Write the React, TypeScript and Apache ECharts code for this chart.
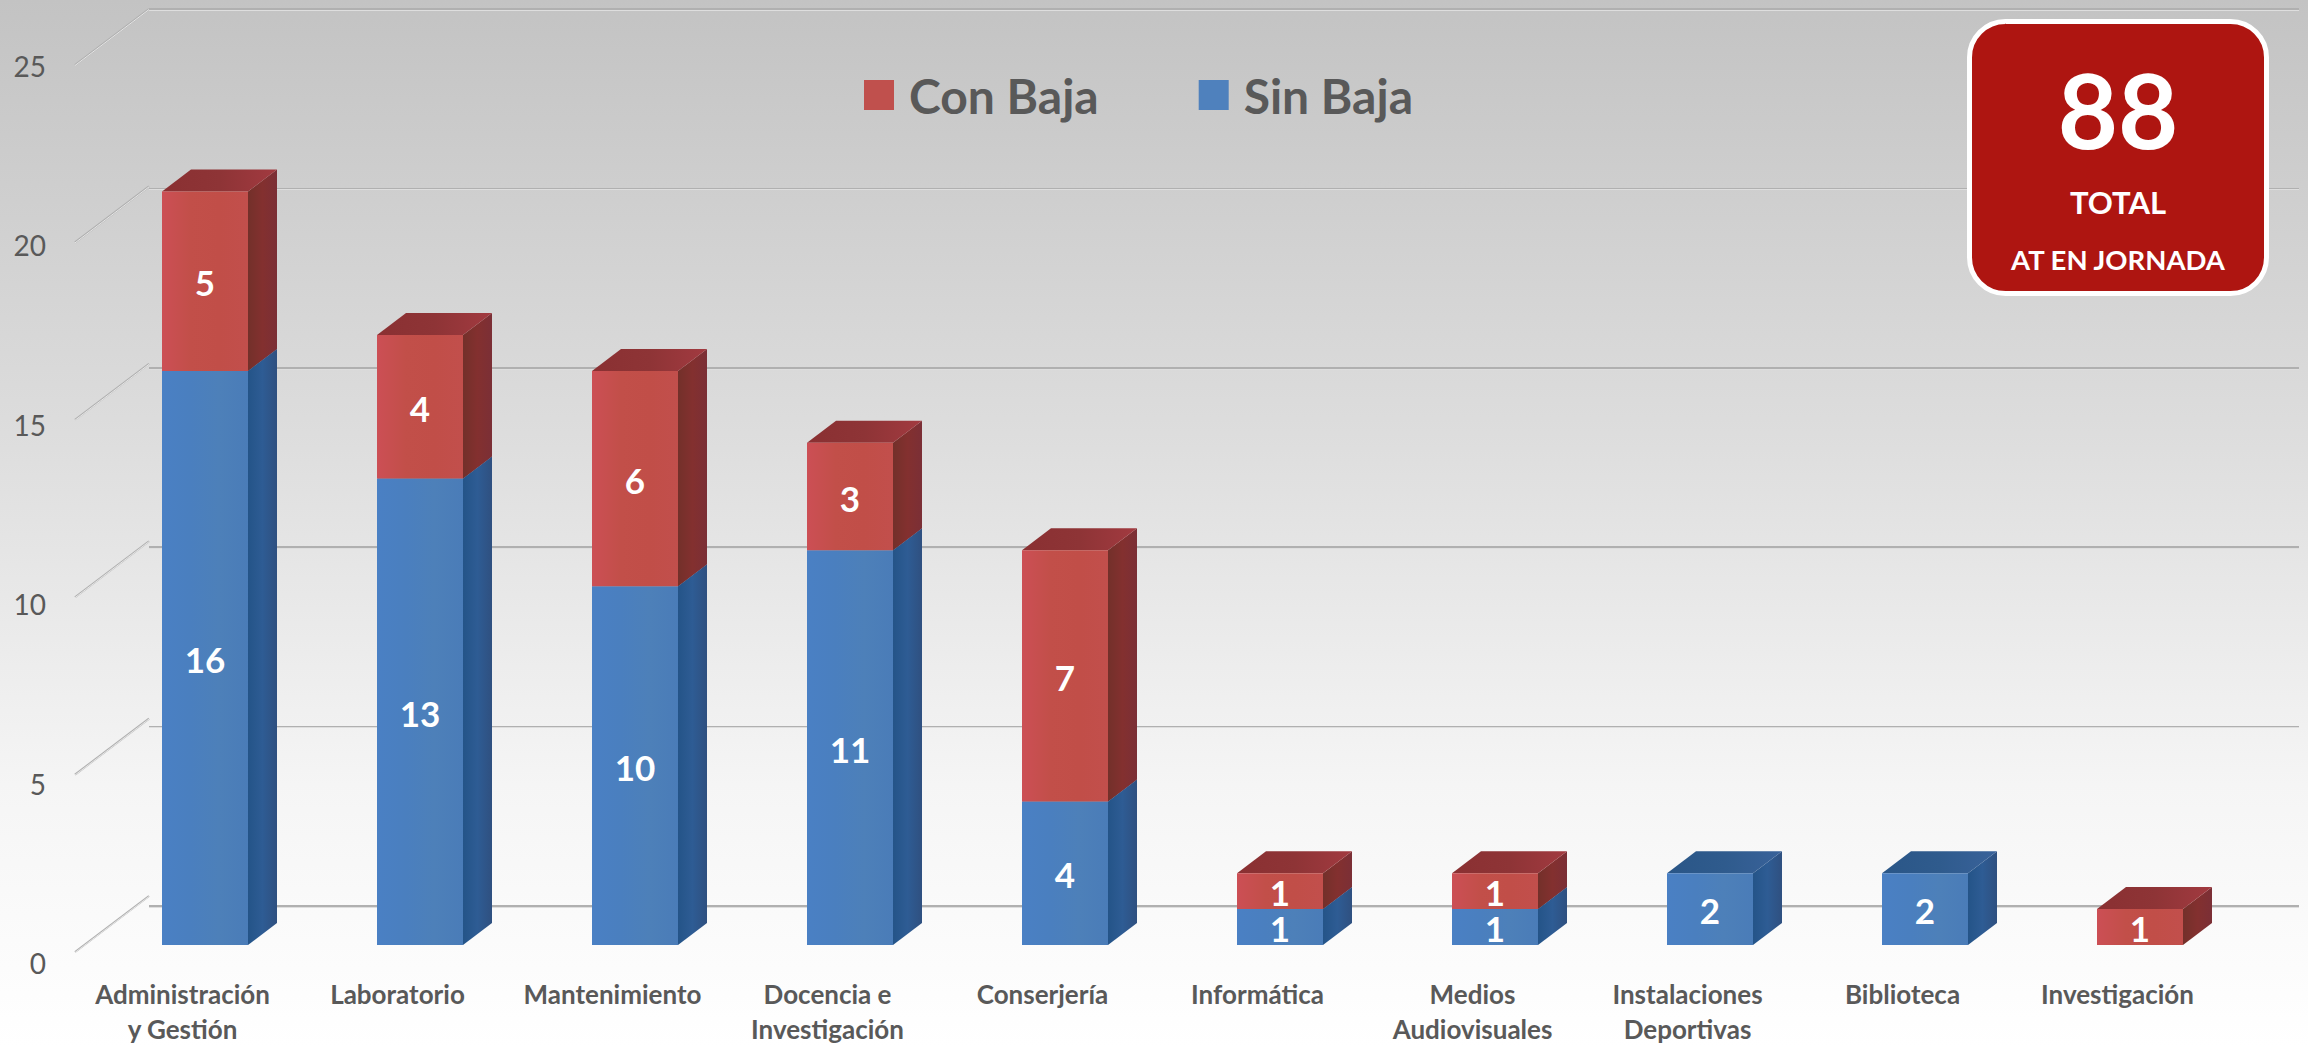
import React, { useEffect, useRef } from "react";
import * as echarts from "echarts";

const categories = ["Administración\ny Gestión", "Laboratorio", "Mantenimiento", "Docencia e\nInvestigación", "Conserjería", "Informática", "Medios\nAudiovisuales", "Instalaciones\nDeportivas", "Biblioteca", "Investigación"];
const sinBaja = [16, 13, 10, 11, 4, 1, 1, 2, 2, 0];
const conBaja = [5, 4, 6, 3, 7, 1, 1, 0, 0, 1];
const yTicks = [0, 5, 10, 15, 20, 25];
const FONT = "Lato, 'Open Sans', sans-serif";
const DEPTH_X = 29, DEPTH_Y = 22;
const WALL_X = 74, WALL_Y = 56;

const RED = { front: ["#cc4f55", "#c24f49", "#c14e48", "#c24f4c"], side: ["#73302a", "#83302f", "#7b2f36"], top: ["#8a3032", "#8e3436", "#a23a40"] };
const BLUE = { front: ["#4a80c4", "#4a7fbf", "#4d80b9", "#4a7cb8"], side: ["#245488", "#2e5c94", "#2f5080"], top: ["#2a5687", "#2f5b8d", "#39629a"] };

const hgrad = (c: string[]) => new echarts.graphic.LinearGradient(0, 0, 1, 0, c.map((color, i) => ({ offset: i / (c.length - 1), color })));

function barSeries(name: string, values: number[], bases: number[], pal: typeof RED) {
  return {
    name, type: "custom", xAxisIndex: 3, yAxisIndex: 3, color: name === "Con Baja" ? "#c0504d" : "#4f81bd",
    data: values.map((v, i) => [i, bases[i], bases[i] + v, v]),
    encode: { x: 0, y: [1, 2] },
    renderItem: (_p: any, api: any) => {
      const v = api.value(3);
      if (!v) return { type: "group", children: [] };
      const i = api.value(0);
      const [cx, yb] = api.coord([i, api.value(1)]);
      const [, yt] = api.coord([i, api.value(2)]);
      const w = api.size([1, 0])[0] * 0.4;
      const xl = cx - w / 2, xr = cx + w / 2;
      return {
        type: "group",
        children: [
          { type: "polygon", shape: { points: [[xr, yb], [xr + DEPTH_X, yb - DEPTH_Y], [xr + DEPTH_X, yt - DEPTH_Y], [xr, yt]] }, style: { fill: hgrad(pal.side) } },
          { type: "polygon", shape: { points: [[xl, yt], [xl + DEPTH_X, yt - DEPTH_Y], [xr + DEPTH_X, yt - DEPTH_Y], [xr, yt]] }, style: { fill: hgrad(pal.top) } },
          { type: "rect", shape: { x: xl, y: yt, width: w, height: yb - yt }, style: { fill: hgrad(pal.front) } },
          { type: "text", style: { text: String(v), x: cx, y: (yt + yb) / 2 + 1, fill: "#fff", font: `bold 35px ${FONT}`, align: "center", verticalAlign: "middle" } },
        ],
      };
    },
  };
}

function wallSeries(stroke: string, lineWidth: number, dy: number) {
  return {
    type: "custom", xAxisIndex: 0, yAxisIndex: 0, silent: true,
    data: yTicks.map((t) => [0, t]),
    renderItem: (_p: any, api: any) => {
      const band = api.size([1, 0])[0];
      const [x, y] = api.coord([0, api.value(1)]);
      const xl = x - band / 2;
      return { type: "line", shape: { x1: xl, y1: y + dy, x2: xl + WALL_X, y2: y + dy - WALL_Y }, style: { stroke, lineWidth } };
    },
  };
}

function App() {
  const ref = useRef<HTMLDivElement>(null);
  useEffect(() => {
    document.body.style.margin = "0";
    const chart = echarts.init(ref.current!, null, { renderer: "svg" });
    const axisCommon = { type: "value", min: 0, max: 25, interval: 5 };
    const hiddenY = { axisLine: { show: false }, axisTick: { show: false }, axisLabel: { show: false } };
    chart.setOption({
      animation: false,
      backgroundColor: new echarts.graphic.LinearGradient(0, 0, 0, 1, [
        { offset: 0, color: "#c3c3c3" }, { offset: 0.4, color: "#dcdcdc" }, { offset: 0.75, color: "#f5f5f5" }, { offset: 1, color: "#ffffff" },
      ]),
      legend: {
        data: ["Con Baja", "Sin Baja"], left: 859, top: 66, itemWidth: 30, itemHeight: 30, itemGap: 100, icon: "rect",
        selectedMode: false,
        textStyle: { color: "#595959", fontFamily: FONT, fontWeight: "bold", fontSize: 48, padding: [0, 0, 4, 10] },
      },
      grid: [
        { left: 75, top: 65, width: 2150, height: 897 },
        { left: 149, top: 9, width: 2150, height: 897 },
        { left: 149, top: 10, width: 2150, height: 897 },
        { left: 97.5, top: 48, width: 2150, height: 897 },
        { left: 75, top: 66, width: 2150, height: 897 },
      ],
      xAxis: [
        { type: "category", gridIndex: 0, data: categories, axisLine: { show: false }, axisTick: { show: false }, axisLabel: { color: "#595959", fontFamily: FONT, fontWeight: "bold", fontSize: 26, lineHeight: 35, margin: 24, verticalAlign: "top", interval: 0 } },
        { type: "category", gridIndex: 1, data: categories, show: false },
        { type: "category", gridIndex: 2, data: categories, show: false },
        { type: "category", gridIndex: 3, data: categories, show: false },
        { type: "category", gridIndex: 4, data: categories, show: false },
      ],
      yAxis: [
        { ...axisCommon, gridIndex: 0, show: false },
        { ...axisCommon, gridIndex: 1, ...hiddenY, splitLine: { show: true, lineStyle: { color: "#b0b0b0", width: 2 } } },
        { ...axisCommon, gridIndex: 2, ...hiddenY, splitLine: { show: true, lineStyle: { color: "#dedede", width: 1 } } },
        { ...axisCommon, gridIndex: 3, show: false },
        { ...axisCommon, gridIndex: 4, splitLine: { show: false }, axisLine: { show: false }, axisTick: { show: false }, axisLabel: { color: "#595959", fontFamily: FONT, fontSize: 28, margin: 29 } },
      ],
      series: [
        wallSeries("#b0b0b0", 2, 0),
        wallSeries("#e6e6e6", 1, 0.5),
        barSeries("Sin Baja", sinBaja, sinBaja.map(() => 0), BLUE),
        barSeries("Con Baja", conBaja, sinBaja, RED),
      ],
      graphic: [
        { type: "rect", x: 1969.5, y: 21.5, shape: { width: 297, height: 272, r: 36 }, style: { fill: "#ae1511", stroke: "#fff", lineWidth: 5 }, z: 100 },
        { type: "text", x: 2118, y: 108, style: { text: "88", fill: "#fff", font: `bold 104px ${FONT}`, align: "center", verticalAlign: "middle" }, z: 101 },
        { type: "text", x: 2118, y: 202, style: { text: "TOTAL", fill: "#fff", font: `bold 31px ${FONT}`, align: "center", verticalAlign: "middle" }, z: 101 },
        { type: "text", x: 2118, y: 259, style: { text: "AT EN JORNADA", fill: "#fff", font: `bold 27.5px ${FONT}`, align: "center", verticalAlign: "middle" }, z: 101 },
      ],
    });
    return () => chart.dispose();
  }, []);
  return <div ref={ref} style={{ width: 2308, height: 1046 }} />;
}

export default App;
